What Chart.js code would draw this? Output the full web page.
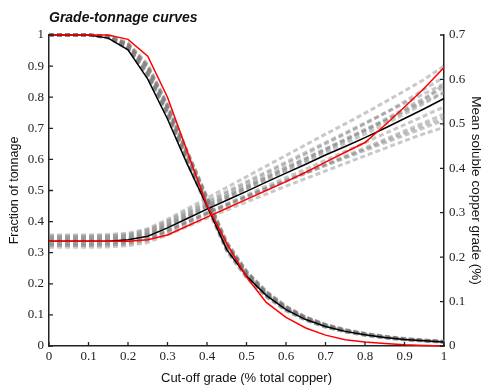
<!DOCTYPE html>
<html>
<head>
<meta charset="utf-8">
<script src="https://cdn.jsdelivr.net/npm/chart.js@4/dist/chart.umd.min.js"></script>
<style>
  html, body { margin: 0; padding: 0; background: #fff; }
</style>
</head>
<body>
<canvas id="gtChart" width="484" height="387"></canvas>
<script>
// cut-off grades (% total copper)
const cutoffs = [0, 0.05, 0.1, 0.15, 0.2, 0.25, 0.3, 0.35, 0.4, 0.45, 0.5,
                 0.55, 0.6, 0.65, 0.7, 0.75, 0.8, 0.85, 0.9, 0.95, 1];

// fraction of tonnage above cut-off
const tonnageMean = [1, 1, 1, 0.99, 0.952, 0.858, 0.73, 0.585, 0.45, 0.31, 0.225,
                     0.163, 0.117, 0.085, 0.063, 0.047, 0.036, 0.027, 0.021, 0.017, 0.013];
const tonnageRef = [1, 1, 1, 1, 0.986, 0.932, 0.8, 0.625, 0.452, 0.33, 0.222,
                    0.14, 0.092, 0.058, 0.035, 0.02, 0.013, 0.008, 0.004, 0.002, 0];

// mean soluble copper grade above cut-off (%)
const gradeMean = [0.236, 0.236, 0.236, 0.236, 0.239, 0.247, 0.266, 0.287, 0.308, 0.328, 0.348,
                   0.369, 0.389, 0.409, 0.43, 0.449, 0.469, 0.49, 0.512, 0.534, 0.557];
const gradeRef = [0.236, 0.236, 0.236, 0.236, 0.236, 0.239, 0.25, 0.27, 0.29, 0.31, 0.33,
                  0.35, 0.37, 0.391, 0.414, 0.436, 0.458, 0.497, 0.538, 0.58, 0.627];

// simulated realisations
const tonnageSims = [
  [1, 1, 1, 0.995, 0.966, 0.89, 0.762, 0.612, 0.468, 0.325, 0.234, 0.17, 0.123, 0.09, 0.067, 0.05, 0.038, 0.029, 0.022, 0.018, 0.014],
  [1, 1, 1, 0.99, 0.955, 0.868, 0.742, 0.596, 0.455, 0.313, 0.227, 0.165, 0.119, 0.087, 0.064, 0.048, 0.036, 0.028, 0.021, 0.017, 0.013],
  [1, 1, 1, 0.993, 0.961, 0.878, 0.752, 0.604, 0.456, 0.31, 0.223, 0.161, 0.116, 0.084, 0.062, 0.046, 0.035, 0.027, 0.02, 0.016, 0.012],
  [1, 1, 1, 0.997, 0.972, 0.902, 0.775, 0.625, 0.478, 0.333, 0.24, 0.175, 0.127, 0.092, 0.069, 0.052, 0.04, 0.031, 0.024, 0.019, 0.015],
  [1, 1, 1, 0.992, 0.958, 0.874, 0.748, 0.602, 0.46, 0.318, 0.23, 0.168, 0.121, 0.088, 0.066, 0.049, 0.037, 0.028, 0.022, 0.017, 0.013],
  [1, 1, 1, 0.995, 0.968, 0.894, 0.768, 0.618, 0.472, 0.328, 0.236, 0.171, 0.124, 0.091, 0.068, 0.051, 0.039, 0.03, 0.023, 0.018, 0.014],
  [1, 1, 1, 0.991, 0.956, 0.866, 0.738, 0.59, 0.446, 0.304, 0.219, 0.158, 0.113, 0.082, 0.06, 0.045, 0.034, 0.026, 0.02, 0.016, 0.012],
  [1, 1, 1, 0.996, 0.97, 0.898, 0.772, 0.622, 0.475, 0.33, 0.238, 0.173, 0.126, 0.092, 0.068, 0.051, 0.039, 0.03, 0.023, 0.018, 0.014],
  [1, 1, 1, 0.994, 0.963, 0.882, 0.757, 0.608, 0.463, 0.321, 0.232, 0.168, 0.121, 0.088, 0.065, 0.048, 0.037, 0.028, 0.021, 0.017, 0.013],
  [1, 1, 1, 0.998, 0.975, 0.906, 0.778, 0.628, 0.48, 0.335, 0.242, 0.176, 0.128, 0.093, 0.07, 0.053, 0.041, 0.031, 0.024, 0.019, 0.015],
  [1, 1, 1, 0.993, 0.96, 0.876, 0.75, 0.598, 0.452, 0.308, 0.222, 0.16, 0.115, 0.084, 0.062, 0.046, 0.035, 0.027, 0.02, 0.016, 0.012],
  [1, 1, 1, 0.996, 0.969, 0.896, 0.77, 0.62, 0.47, 0.326, 0.235, 0.171, 0.124, 0.09, 0.067, 0.05, 0.038, 0.029, 0.022, 0.018, 0.014]
];
const gradeSims = [
  [0.245, 0.245, 0.245, 0.246, 0.249, 0.258, 0.278, 0.3, 0.322, 0.344, 0.366, 0.388, 0.41, 0.432, 0.455, 0.477, 0.5, 0.524, 0.55, 0.578, 0.605],
  [0.228, 0.228, 0.228, 0.229, 0.232, 0.24, 0.258, 0.278, 0.298, 0.317, 0.336, 0.355, 0.373, 0.391, 0.41, 0.428, 0.446, 0.465, 0.484, 0.503, 0.522],
  [0.24, 0.24, 0.24, 0.241, 0.244, 0.253, 0.272, 0.294, 0.316, 0.337, 0.358, 0.38, 0.401, 0.422, 0.444, 0.466, 0.488, 0.51, 0.534, 0.558, 0.582],
  [0.232, 0.232, 0.232, 0.233, 0.236, 0.243, 0.261, 0.281, 0.3, 0.319, 0.337, 0.355, 0.372, 0.389, 0.406, 0.423, 0.44, 0.457, 0.474, 0.491, 0.508],
  [0.25, 0.25, 0.25, 0.251, 0.254, 0.264, 0.285, 0.309, 0.333, 0.357, 0.381, 0.405, 0.429, 0.453, 0.477, 0.5, 0.524, 0.549, 0.574, 0.6, 0.63],
  [0.236, 0.236, 0.236, 0.237, 0.24, 0.249, 0.268, 0.289, 0.31, 0.331, 0.352, 0.373, 0.393, 0.414, 0.435, 0.456, 0.477, 0.499, 0.522, 0.546, 0.57],
  [0.222, 0.222, 0.222, 0.223, 0.226, 0.233, 0.25, 0.269, 0.288, 0.306, 0.324, 0.342, 0.36, 0.377, 0.394, 0.411, 0.428, 0.445, 0.462, 0.478, 0.492],
  [0.242, 0.242, 0.242, 0.243, 0.246, 0.255, 0.275, 0.297, 0.318, 0.339, 0.36, 0.381, 0.402, 0.422, 0.443, 0.464, 0.485, 0.506, 0.528, 0.55, 0.572],
  [0.23, 0.23, 0.23, 0.231, 0.234, 0.242, 0.26, 0.28, 0.3, 0.32, 0.34, 0.36, 0.379, 0.398, 0.418, 0.438, 0.458, 0.478, 0.498, 0.518, 0.538],
  [0.238, 0.238, 0.238, 0.239, 0.242, 0.251, 0.27, 0.291, 0.313, 0.334, 0.355, 0.376, 0.397, 0.418, 0.44, 0.462, 0.484, 0.507, 0.53, 0.554, 0.59],
  [0.226, 0.226, 0.226, 0.227, 0.23, 0.238, 0.256, 0.276, 0.296, 0.315, 0.334, 0.353, 0.371, 0.389, 0.407, 0.425, 0.443, 0.461, 0.479, 0.497, 0.514],
  [0.247, 0.247, 0.247, 0.248, 0.251, 0.261, 0.281, 0.304, 0.326, 0.348, 0.37, 0.392, 0.414, 0.436, 0.458, 0.48, 0.502, 0.524, 0.546, 0.568, 0.59]
];

// axis tick labels
const xTickLabels = ['0', '0.1', '0.2', '0.3', '0.4', '0.5', '0.6', '0.7', '0.8', '0.9', '1'];
const yTickLabels = ['0', '0.1', '0.2', '0.3', '0.4', '0.5', '0.6', '0.7', '0.8', '0.9', '1'];
const y1TickLabels = ['0', '0.1', '0.2', '0.3', '0.4', '0.5', '0.6', '0.7'];

const toPoints = ys => ys.map((y, i) => ({ x: cutoffs[i], y: y }));
const tickValues = labels => labels.map(l => ({ value: parseFloat(l) }));

const simStyle = {
  borderColor: 'rgba(125,125,125,0.42)',
  borderWidth: 3,
  borderDash: [5, 3],
  pointRadius: 0,
  order: 2
};

const datasets = [];
tonnageSims.forEach(s => datasets.push(Object.assign({ data: toPoints(s), yAxisID: 'y' }, simStyle)));
gradeSims.forEach(s => datasets.push(Object.assign({ data: toPoints(s), yAxisID: 'y1' }, simStyle)));
datasets.push(
  { data: toPoints(tonnageMean), yAxisID: 'y', borderColor: '#000', borderWidth: 1.5, pointRadius: 0, order: 1 },
  { data: toPoints(gradeMean), yAxisID: 'y1', borderColor: '#000', borderWidth: 1.5, pointRadius: 0, order: 1 },
  { data: toPoints(tonnageRef), yAxisID: 'y', borderColor: '#ff0000', borderWidth: 1.5, pointRadius: 0, order: 0 },
  { data: toPoints(gradeRef), yAxisID: 'y1', borderColor: '#ff0000', borderWidth: 1.5, pointRadius: 0, order: 0 }
);

// short tick marks pointing into the plot, plus the heading
const frameExtras = {
  id: 'frameExtras',
  afterDraw(chart) {
    const { ctx, chartArea: a, scales } = chart;
    const len = 4;
    ctx.save();
    ctx.strokeStyle = '#222';
    ctx.lineWidth = 1.3;
    ctx.beginPath();
    scales.x.ticks.forEach((t, i) => {
      const px = scales.x.getPixelForTick(i);
      ctx.moveTo(px, a.bottom); ctx.lineTo(px, a.bottom - len);
    });
    scales.y.ticks.forEach((t, i) => {
      const py = scales.y.getPixelForTick(i);
      ctx.moveTo(a.left, py); ctx.lineTo(a.left + len, py);
    });
    scales.y1.ticks.forEach((t, i) => {
      const py = scales.y1.getPixelForTick(i);
      ctx.moveTo(a.right, py); ctx.lineTo(a.right - len, py);
    });
    ctx.stroke();

    ctx.fillStyle = '#111';
    ctx.font = 'italic bold 14px "Liberation Sans", Arial, sans-serif';
    ctx.textBaseline = 'alphabetic';
    ctx.fillText('Grade-tonnage curves', a.left, 22);
    ctx.restore();
  }
};

const tickFont = { family: '"Liberation Serif", "Times New Roman", serif', size: 13 };
const titleFont = { family: '"Liberation Sans", Arial, sans-serif', size: 13 };
const border = { display: true, color: '#222', width: 1.5 };

new Chart(document.getElementById('gtChart'), {
  type: 'line',
  data: { datasets: datasets },
  options: {
    responsive: false,
    animation: false,
    events: [],
    layout: { padding: { top: 35, left: 0, right: 0, bottom: 0 } },
    elements: { line: { tension: 0 } },
    datasets: { line: { clip: 3 } },
    plugins: { legend: { display: false }, tooltip: { enabled: false } },
    scales: {
      x: {
        type: 'linear', min: 0, max: 1,
        grid: { display: false, drawTicks: false },
        border: border,
        afterBuildTicks: s => { s.ticks = tickValues(xTickLabels); },
        afterFit: s => { s.height = 41; },
        ticks: { color: '#222', font: tickFont, padding: 3, maxRotation: 0,
                 callback: (v, i) => xTickLabels[i] },
        title: { display: true, text: 'Cut-off grade (% total copper)', color: '#111',
                 font: titleFont, padding: { top: 0, bottom: 1 } }
      },
      y: {
        type: 'linear', position: 'left', min: 0, max: 1,
        grid: { display: false, drawTicks: false },
        border: border,
        afterBuildTicks: s => { s.ticks = tickValues(yTickLabels); },
        afterFit: s => { s.width = 49; },
        ticks: { color: '#222', font: tickFont, padding: 5,
                 callback: (v, i) => yTickLabels[i] },
        title: { display: true, text: 'Fraction of tonnage', color: '#111',
                 font: { family: titleFont.family, size: 12.5 }, padding: { top: 7, bottom: 0 } }
      },
      y1: {
        type: 'linear', position: 'right', min: 0, max: 0.7,
        grid: { display: false, drawTicks: false },
        border: border,
        afterBuildTicks: s => { s.ticks = tickValues(y1TickLabels); },
        afterFit: s => { s.width = 40; },
        ticks: { color: '#222', font: tickFont, padding: 5,
                 callback: (v, i) => y1TickLabels[i] },
        title: { display: true, text: 'Mean soluble copper grade (%)', color: '#111',
                 font: { family: titleFont.family, size: 13.5 }, padding: { top: 0, bottom: 0 } }
      }
    }
  },
  plugins: [frameExtras]
});
</script>
</body>
</html>
